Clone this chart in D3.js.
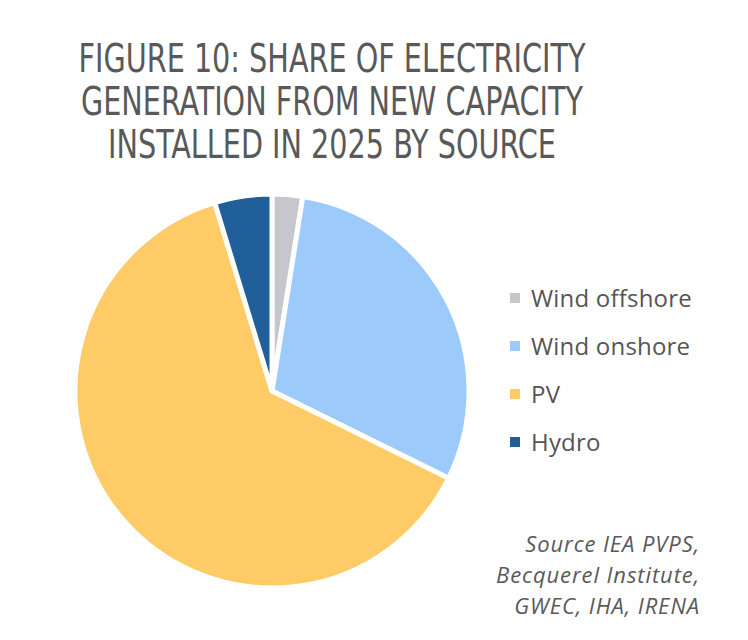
<!DOCTYPE html>
<html>
<head>
<meta charset="utf-8">
<script src="https://cdn.jsdelivr.net/npm/d3@7"></script>
<style>
  body { margin: 0; background: #fff; }
</style>
</head>
<body>
<div id="chart"></div>
<script>
// values (share of generation, %)
var sources = ["Wind offshore", "Wind onshore", "PV", "Hydro"];
var shares = [2.5, 29.8, 63.0, 4.7];
var colours = ["#c5c7cc", "#9ccbfb", "#fecb66", "#215f9a"];
var titleLines = ["FIGURE 10: SHARE OF ELECTRICITY", "GENERATION FROM NEW CAPACITY", "INSTALLED IN 2025 BY SOURCE"];
var sourceLines = ["Source IEA PVPS,", "Becquerel Institute,", "GWEC, IHA, IRENA"];

var width = 748, height = 640;

var svg = d3.select("#chart")
  .append("svg")
  .attr("width", width)
  .attr("height", height);

// title - narrow look: squeeze the condensed font horizontally
var titleG = svg.append("g");

var titles = titleG.selectAll("text.title")
  .data(titleLines)
  .enter()
    .append("text")
    .attr("class", "title")
    .attr("x", 0)
    .attr("y", function (d, i) { return 72 + i * 43; })
    .attr("text-anchor", "middle")
    .style("font-family", "'DejaVu Sans Condensed', 'DejaVu Sans', sans-serif")
    .style("font-stretch", "condensed")
    .style("font-size", "39px")
    .style("fill", "#595959")
    .text(function (d) { return d; });

var w0 = titles.node().getComputedTextLength();
var sx = 507 / w0;
titleG.attr("transform", "translate(332,0) scale(" + sx + ",1)");

// pie
var color = d3.scaleOrdinal().domain(sources).range(colours);

var pie = d3.pie().sort(null).value(function (d) { return d.value; });
var arc = d3.arc().innerRadius(0).outerRadius(197);

var pieData = sources.map(function (s, i) { return { name: s, value: shares[i] }; });

var g = svg.append("g").attr("transform", "translate(272,391)");

g.selectAll("path")
  .data(pie(pieData))
  .enter()
    .append("path")
    .attr("d", arc)
    .attr("fill", function (d) { return color(d.data.name); })
    .attr("stroke", "#fff")
    .attr("stroke-width", 5)
    .attr("stroke-linejoin", "round");

// legend
var legend = svg.append("g").attr("transform", "translate(510,298)");

var items = legend.selectAll("g")
  .data(sources)
  .enter()
    .append("g")
    .attr("transform", function (d, i) { return "translate(0," + (i * 48) + ")"; });

items.append("rect")
  .attr("x", 0)
  .attr("y", -5)
  .attr("width", 10)
  .attr("height", 10)
  .attr("fill", function (d) { return color(d); });

items.append("text")
  .attr("x", 21)
  .attr("y", 9)
  .style("font-family", "'Open Sans', 'Liberation Sans', sans-serif")
  .style("font-size", "24px")
  .style("letter-spacing", "0.2px")
  .style("fill", "#555")
  .text(function (d) { return d; });

// source note
svg.selectAll("text.note")
  .data(sourceLines)
  .enter()
    .append("text")
    .attr("class", "note")
    .attr("x", 700)
    .attr("y", function (d, i) { return 552 + i * 31; })
    .attr("text-anchor", "end")
    .style("font-family", "'Open Sans', 'Liberation Sans', sans-serif")
    .style("font-style", "italic")
    .style("font-size", "22px")
    .style("letter-spacing", "0.9px")
    .style("fill", "#595959")
    .text(function (d) { return d; });
</script>
</body>
</html>
